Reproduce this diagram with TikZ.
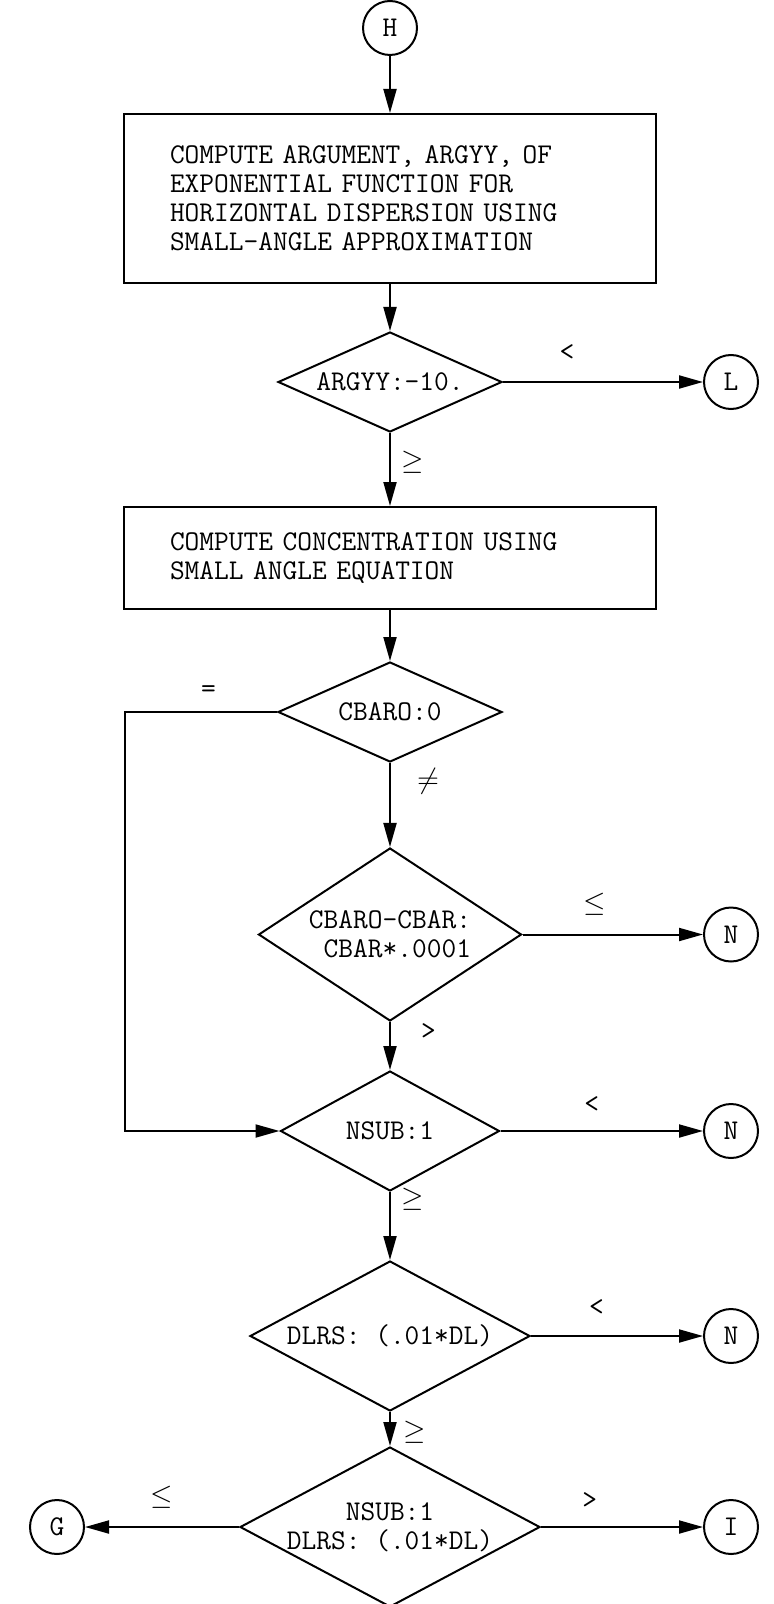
\documentclass[tikz,border=0pt]{standalone}
\usepackage{fontspec}
\usetikzlibrary{arrows.meta,positioning,shapes.geometric}

\begin{document}
\begin{tikzpicture}
  [
    x=0.5pt,y=-0.5pt,
    font=\ttfamily\fontsize{14.3}{14.5}\selectfont,
    connector/.style={circle,draw,line width=1pt,inner sep=0pt,minimum size=27pt},
    process/.style={rectangle,draw,line width=1pt,align=left,text width=220pt,
      inner xsep=23pt,inner ysep=0pt},
    decision/.style={diamond,draw,line width=1pt,inner sep=-10pt,aspect=1.7},
    flow/.style={line width=1pt,-{Triangle[length=12pt,width=6.5pt]}},
    cond/.style={inner sep=1pt}
  ]
  \useasboundingbox (0,0) rectangle (774,1604);
  \coordinate (exits) at (731,0);
  \coordinate (back) at (57,0);
  \coordinate (loop) at (125,0);
  % main column
  \node[connector] (H) at (390,28) {H};
  \node[process,minimum height=84.5pt] (argument) [below = 28.5pt of H]
    {COMPUTE ARGUMENT, ARGYY, OF\\EXPONENTIAL FUNCTION FOR\\HORIZONTAL DISPERSION USING\\SMALL-ANGLE APPROXIMATION};
  \node[decision,minimum width=112pt,minimum height=50pt] (argyy) [below = 23.5pt of argument]
    {ARGYY:-10.\hspace{12pt}};
  \node[process,minimum height=51pt] (concentration) [below = 36.5pt of argyy]
    {COMPUTE CONCENTRATION USING\\SMALL ANGLE EQUATION};
  \node[decision,minimum width=112pt,minimum height=50pt] (cbaro) [below = 25.5pt of concentration]
    {CBARO:0\hspace{18pt}};
  \node[decision,minimum width=131.5pt,minimum height=86.5pt,align=right] (cbardiff) [below = 42pt of cbaro]
    {CBARO-CBAR:\hspace{20pt}\\CBAR*.0001\hspace{20pt}};
  \node[decision,minimum width=109.5pt,minimum height=60pt] (nsub) [below = 24pt of cbardiff]
    {NSUB:1\hspace{12pt}};
  \node[decision,minimum width=140pt,minimum height=75pt] (dlrs) [below = 34pt of nsub]
    {DLRS: (.01*DL)\hspace{12pt}};
  \node[decision,minimum width=150pt,minimum height=80pt,align=center] (both) [below = 17pt of dlrs]
    {NSUB:1\hspace{10pt}\\DLRS: (.01*DL)\hspace{10pt}};
  % exits
  \node[connector] (L) at (argyy -| exits) {L};
  \node[connector] (N1) at (cbardiff -| exits) {N};
  \node[connector] (N2) at (nsub -| exits) {N};
  \node[connector] (N3) at (dlrs -| exits) {N};
  \node[connector] (I) at (both -| exits) {I};
  \node[connector] (G) at (both -| back) {G};
  % connectors
  \draw[flow] (H) -- (argument);
  \draw[flow] (argument) -- (argyy);
  \draw[flow] (argyy) -- node[cond,pos=.4,right=4pt] {$\geq$} (concentration);
  \draw[flow] (argyy) -- node[cond,pos=.32,above=9pt] {<} (L);
  \draw[flow] (concentration) -- (cbaro);
  \draw[flow] (cbaro) -- node[cond,pos=.22,right=12pt] {$\neq$} (cbardiff);
  \draw[flow] (cbaro.west) -- node[cond,pos=.45,above=6pt] {=} (cbaro.west -| loop)
    -- (nsub.west -| loop) -- (nsub.west);
  \draw[flow] (cbardiff) -- node[cond,pos=.4,above=8pt] {$\leq$} (N1);
  \draw[flow] (cbardiff) -- node[cond,pos=.2,right=14pt] {>} (nsub);
  \draw[flow] (nsub) -- node[cond,pos=.45,above=8pt] {<} (N2);
  \draw[flow] (nsub) -- node[cond,pos=.1,right=4pt] {$\geq$} (dlrs);
  \draw[flow] (dlrs) -- node[cond,pos=.38,above=9pt] {<} (N3);
  \draw[flow] (dlrs) -- node[cond,pos=.6,right=5pt] {$\geq$} (both);
  \draw[flow] (both) -- node[cond,pos=.5,above=8pt] {$\leq$} (G);
  \draw[flow] (both) -- node[cond,pos=.3,above=8pt] {>} (I);
\end{tikzpicture}
\end{document}
